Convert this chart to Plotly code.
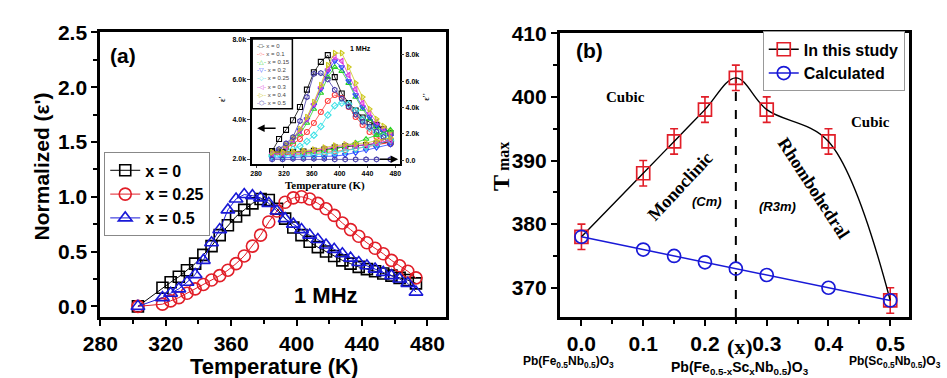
import plotly.graph_objects as go

W, H = 947, 378
def px(x): return x / W
def py(y): return 1 - y / H

# ---------------- Panel (a) data ----------------
temp_a = [303, 318, 323, 328, 333, 338, 343, 348, 353, 358, 363, 368, 373, 378, 383, 388,
          393, 398, 403, 408, 413, 418, 423, 428, 433, 438, 443, 448, 453, 458, 463, 468, 473]
norm_x0 = [0.0, 0.17, 0.22, 0.27, 0.33, 0.39, 0.47, 0.55, 0.65, 0.74, 0.82, 0.88, 0.94, 0.98, 0.97, 0.89,
           0.80, 0.72, 0.65, 0.59, 0.54, 0.50, 0.46, 0.42, 0.39, 0.36, 0.34, 0.32, 0.30, 0.28, 0.26, 0.24, 0.21]
norm_x025 = [0.0, 0.02, 0.05, 0.08, 0.12, 0.16, 0.20, 0.24, 0.28, 0.33, 0.39, 0.46, 0.55, 0.65, 0.77, 0.87,
             0.95, 0.99, 1.0, 0.98, 0.94, 0.89, 0.83, 0.76, 0.70, 0.64, 0.58, 0.53, 0.48, 0.42, 0.37, 0.32, 0.26]
norm_x05 = [0.0, 0.08, 0.12, 0.16, 0.22, 0.29, 0.42, 0.58, 0.70, 0.88, 0.98, 1.02, 1.01, 0.99, 0.94, 0.87,
            0.80, 0.75, 0.70, 0.65, 0.61, 0.56, 0.52, 0.48, 0.44, 0.40, 0.37, 0.34, 0.31, 0.28, 0.25, 0.21, 0.13]
labels_a = ["x = 0", "x = 0.25", "x = 0.5"]

# ---------------- Inset data (k units) ----------------
inset_labels = ["x = 0", "x = 0.1", "x = 0.15", "x = 0.2", "x = 0.25", "x = 0.3", "x = 0.4", "x = 0.5"]
temp_in = [303, 313, 323, 333, 343, 353, 363, 373, 383, 393, 403, 413, 423, 433, 443, 453, 463, 473]
eps_x0 = [2.4, 3.0, 3.46, 3.94, 4.6, 5.47, 6.34, 6.86, 7.2, 6.1, 5.28, 4.8, 4.42, 4.08, 3.84, 3.7, 3.5, 3.3]
eps_x01 = [2.3, 2.4, 2.55, 2.75, 3.0, 3.35, 3.8, 4.35, 4.9, 5.2, 5.05, 4.6, 4.1, 3.7, 3.35, 3.1, 2.9, 2.75]
eps_x015 = [2.2, 2.35, 2.55, 2.85, 3.25, 3.8, 4.5, 5.3, 6.1, 6.6, 6.4, 5.8, 5.1, 4.5, 4.0, 3.6, 3.3, 3.05]
eps_x02 = [2.3, 2.45, 2.7, 3.0, 3.45, 4.0, 4.7, 5.5, 6.4, 6.9, 6.6, 5.9, 5.2, 4.6, 4.1, 3.7, 3.4, 3.15]
eps_x025 = [2.2, 2.25, 2.33, 2.49, 2.64, 2.88, 3.19, 3.63, 4.2, 4.67, 4.8, 4.75, 4.41, 3.97, 3.55, 3.32, 3.11, 2.88]
eps_x03 = [2.2, 2.35, 2.6, 2.95, 3.4, 4.0, 4.75, 5.6, 6.5, 7.1, 6.9, 6.2, 5.5, 4.8, 4.3, 3.85, 3.5, 3.25]
eps_x04 = [2.3, 2.45, 2.7, 3.05, 3.5, 4.1, 4.85, 5.7, 6.7, 7.3, 7.3, 6.6, 5.8, 5.1, 4.5, 4.0, 3.65, 3.4]
eps_x05 = [2.3, 2.5, 2.78, 3.1, 3.9, 5.1, 6.26, 6.3, 5.98, 5.46, 5.02, 4.62, 4.22, 3.86, 3.62, 3.38, 3.1, 2.74]
temp_loss = [303, 318, 333, 348, 363, 378, 393, 408, 423, 438, 453, 473]
loss_x0 = [0.6, 0.6, 0.6, 0.65, 0.7, 0.8, 0.95, 1.05, 1.1, 1.15, 1.25, 1.4]
loss_x01 = [0.4, 0.4, 0.45, 0.45, 0.5, 0.55, 0.65, 0.75, 0.85, 1.0, 1.15, 1.35]
loss_x015 = [0.5, 0.5, 0.55, 0.55, 0.6, 0.7, 0.85, 1.05, 1.3, 1.6, 1.9, 2.3]
loss_x02 = [0.15, 0.15, 0.2, 0.25, 0.25, 0.25, 0.3, 0.4, 0.55, 0.75, 0.95, 1.2]
loss_x025 = [0.3, 0.3, 0.35, 0.35, 0.4, 0.45, 0.55, 0.7, 0.85, 1.0, 1.2, 1.5]
loss_x03 = [0.5, 0.5, 0.55, 0.6, 0.7, 0.85, 1.0, 1.1, 1.1, 1.15, 1.3, 1.5]
loss_x04 = [0.6, 0.6, 0.65, 0.7, 0.8, 0.95, 1.1, 1.2, 1.25, 1.3, 1.45, 1.7]
loss_x05 = [0.05, 0.05, 0.1, 0.1, 0.1, 0.1, 0.05, 0.05, 0.05, 0.05, 0.05, 0.05]

# ---------------- Panel (b) data ----------------
x_comp = [0.0, 0.1, 0.15, 0.2, 0.25, 0.3, 0.4, 0.5]
tmax_study = [378, 388, 393, 398, 403, 398, 393, 368]
tmax_err = [2, 2, 2, 2, 2, 2, 2, 2]
tmax_calc = [378, 376, 375, 374, 373, 372, 370, 368]
labels_b = ["In this study", "Calculated"]

RED = "rgb(225,30,40)"
BLUE = "rgb(25,25,215)"
SANS = "Liberation Sans"
SERIF = "Liberation Serif"

fig = go.Figure()

# panel (a)
for yv, name, col, sym, sz in [(norm_x0, labels_a[0], "black", "square-open", 11),
                               (norm_x025, labels_a[1], RED, "circle-open", 12),
                               (norm_x05, labels_a[2], BLUE, "triangle-up-open", 12)]:
    fig.add_trace(go.Scatter(x=temp_a, y=yv, name=name, mode="lines+markers",
                             line=dict(color=col, width=1),
                             marker=dict(symbol=sym, size=sz, color=col, line=dict(width=1.6, color=col)),
                             xaxis="x", yaxis="y", legend="legend"))

# inset
inset_cols = ["black", "rgb(255,60,60)", "rgb(40,210,40)", "rgb(40,70,255)", "rgb(60,225,230)",
              "rgb(220,50,220)", "rgb(205,200,30)", "rgb(70,60,170)"]
inset_syms = ["square-open", "circle-open", "triangle-up-open", "triangle-down-open", "diamond-open",
              "triangle-left-open", "triangle-right-open", "hexagon-open"]
eps_all = [eps_x0, eps_x01, eps_x015, eps_x02, eps_x025, eps_x03, eps_x04, eps_x05]
loss_all = [loss_x0, loss_x01, loss_x015, loss_x02, loss_x025, loss_x03, loss_x04, loss_x05]
for i in range(8):
    fig.add_trace(go.Scatter(x=temp_in, y=eps_all[i], mode="lines+markers", showlegend=False,
                             line=dict(color=inset_cols[i], width=0.8),
                             marker=dict(symbol=inset_syms[i], size=5, color=inset_cols[i], line=dict(width=1.1)),
                             xaxis="x3", yaxis="y3"))
for i in range(8):
    fig.add_trace(go.Scatter(x=temp_loss, y=loss_all[i], mode="lines+markers", showlegend=False,
                             line=dict(color=inset_cols[i], width=0.8),
                             marker=dict(symbol=inset_syms[i], size=5, color=inset_cols[i], line=dict(width=1.1)),
                             xaxis="x3", yaxis="y4"))

# panel (b)
fig.add_trace(go.Scatter(x=x_comp, y=tmax_study, name=labels_b[0], mode="lines+markers",
                         line=dict(color="black", width=1.4, shape="spline", smoothing=1.0),
                         marker=dict(symbol="square-open", size=13, color=RED, line=dict(width=1.7, color=RED)),
                         error_y=dict(type="data", array=tmax_err, visible=True, color=RED, thickness=1.6, width=4),
                         xaxis="x2", yaxis="y2", legend="legend2"))
fig.add_trace(go.Scatter(x=x_comp, y=tmax_calc, name=labels_b[1], mode="lines+markers",
                         line=dict(color=BLUE, width=1.5),
                         marker=dict(symbol="circle-open", size=13, color=BLUE, line=dict(width=1.7, color=BLUE)),
                         xaxis="x2", yaxis="y2", legend="legend2"))

fig.add_shape(type="line", xref="x2", yref="y2", x0=x_comp[4], x1=x_comp[4], y0=365.4, y1=tmax_study[4],
              line=dict(color="black", width=2, dash="dash"), layer="below")

tickfont = dict(family=SANS, size=21, color="black", weight="bold")
axcommon = dict(showline=True, linecolor="black", mirror=True, ticks="outside", tickcolor="black",
                showgrid=False, zeroline=False, tickfont=tickfont)
ydom = [py(315), py(21)]
inset_tf = dict(family=SANS, size=7, color="black", weight="bold")

fig.update_layout(
    width=W, height=H, margin=dict(l=0, r=0, t=0, b=0),
    paper_bgcolor="white", plot_bgcolor="white",
    xaxis=dict(domain=[px(84), px(437)], range=[280, 491.5], anchor="y", tickvals=[280, 320, 360, 400, 440, 480],
               linewidth=3, ticklen=6, tickwidth=2, minor=dict(dtick=20, ticklen=4, tickwidth=2, ticks="outside"),
               **axcommon),
    yaxis=dict(domain=ydom, range=[-0.097, 2.5], anchor="x", tickvals=[0, 0.5, 1.0, 1.5, 2.0, 2.5],
               tickformat=".1f", linewidth=3, ticklen=6, tickwidth=2,
               minor=dict(dtick=0.25, ticklen=4, tickwidth=2, ticks="outside"), **axcommon),
    xaxis2=dict(domain=[px(553), px(909)], range=[-0.0349, 0.530], anchor="y2",
                tickvals=[0.0, 0.1, 0.2, 0.3, 0.4, 0.5], tickformat=".1f", linewidth=3, ticklen=6, tickwidth=2,
                minor=dict(dtick=0.05, ticklen=4, tickwidth=2, ticks="outside"), **axcommon),
    yaxis2=dict(domain=[py(315), py(22)], range=[365.4, 410], anchor="x2", tickvals=[370, 380, 390, 400, 410],
                linewidth=3, ticklen=6, tickwidth=2,
                minor=dict(dtick=5, ticklen=4, tickwidth=2, ticks="outside"), **axcommon),
    xaxis3=dict(domain=[px(239), px(390)], range=[274.4, 487], anchor="y3",
                tickvals=[280, 320, 360, 400, 440, 480], showline=True, linecolor="black", mirror=True,
                linewidth=1.5, ticks="outside", ticklen=2, tickwidth=1, showgrid=False, zeroline=False,
                tickfont=inset_tf),
    yaxis3=dict(domain=[py(157), py(28)], range=[1.75, 8.0], anchor="x3", tickvals=[2, 4, 6, 8],
                ticktext=["2.0k", "4.0k", "6.0k", "8.0k"], showline=True, linecolor="black", mirror=True,
                linewidth=1.5, ticks="outside", ticklen=3, tickwidth=1, showgrid=False, zeroline=False,
                tickfont=inset_tf),
    yaxis4=dict(overlaying="y3", side="right", anchor="x3", range=[-0.3, 9.2], tickvals=[0, 2, 4, 6, 8],
                ticktext=["0.0", "2.0k", "4.0k", "6.0k", "8.0k"], showline=False, ticks="outside",
                ticklen=3, tickwidth=1, showgrid=False, zeroline=False, tickfont=inset_tf),
    legend=dict(x=px(88), y=py(145), xanchor="left", yanchor="top", bgcolor="white",
                bordercolor="#888", borderwidth=1, tracegroupgap=0, itemwidth=30,
                font=dict(family=SANS, size=16, color="black", weight="bold")),
    legend2=dict(x=px(760), y=py(20), xanchor="left", yanchor="top", bgcolor="white",
                 bordercolor="#999", borderwidth=1, tracegroupgap=0, itemwidth=30,
                 font=dict(family=SANS, size=16, color="black", weight="bold")),
    showlegend=True,
)

def ann(text, x, y, size, family=SANS, bold=True, angle=0, italic=False, xanchor="center", xref="paper",
        yref="paper", color="black"):
    fig.add_annotation(text=text, x=x, y=y, xref=xref, yref=yref, showarrow=False, textangle=angle,
                       xanchor=xanchor, yanchor="middle",
                       font=dict(family=family, size=size, color=color, weight="bold" if bold else "normal",
                                 style="italic" if italic else "normal"))

# panel (a) texts
ann("Normalized (ε')", px(24), py(160), 21, angle=-90)
ann("Temperature (K)", px(261), py(366), 22)
ann("(a)", px(107), py(45), 21)
ann("1 MHz", px(314), py(293), 22)

# inset texts
ann("1 MHz", px(350), py(38), 7)
ann("Temperature (K)", px(313), py(179), 11, family=SERIF)
ann("ε'", px(208), py(90), 8, family=SERIF, angle=-90)
ann("ε''", px(417), py(88), 8, family=SERIF, angle=-90)
fig.add_shape(type="rect", xref="paper", yref="paper", x0=px(239), x1=px(280), y0=py(100), y1=py(28),
              line=dict(color="black", width=1.5), fillcolor="white", layer="above")
glyphs = ["□", "○", "△", "▽", "◇", "◁", "▷", "⬡"]
for i in range(8):
    fig.add_annotation(text=f"<span style='color:{inset_cols[i]}'>-{glyphs[i]}-</span> {inset_labels[i]}",
                       x=px(242), y=py(35 + 8.4 * i), xref="paper", yref="paper", showarrow=False,
                       xanchor="left", yanchor="middle",
                       font=dict(family=SANS, size=6, color="#444"))
fig.add_annotation(x=px(244), y=py(120), xref="paper", yref="paper", ax=20, ay=0, text="",
                   showarrow=True, arrowhead=2, arrowsize=1, arrowwidth=1.5, arrowcolor="black")
fig.add_annotation(x=px(388), y=py(152), xref="paper", yref="paper", ax=-20, ay=0, text="",
                   showarrow=True, arrowhead=2, arrowsize=1, arrowwidth=1.5, arrowcolor="black")

# panel (b) texts
ann("(b)", px(583), py(40), 21)
ann("T<span style='font-size:16px'> max</span>", px(493), py(160), 24, family=SERIF, angle=-90)
ann("(x)", px(737), py(345), 22, family=SERIF)
ann("Pb(Fe<sub>0.5</sub>Nb<sub>0.5</sub>)O<sub>3</sub>", px(562), py(361), 12)
ann("Pb(Fe<sub>0.5-x</sub>Sc<sub>x</sub>Nb<sub>0.5</sub>)O<sub>3</sub>", px(737), py(368), 14)
ann("Pb(Sc<sub>0.5</sub>Nb<sub>0.5</sub>)O<sub>3</sub>", px(846), py(361), 12, xanchor="left")
ann("Cubic", 0.071, 400, 15, family=SERIF, xref="x2", yref="y2")
ann("Cubic", 0.468, 396.1, 15, family=SERIF, xref="x2", yref="y2")
ann("Monoclinic", 0.16, 386, 18, family=SERIF, angle=-47, xref="x2", yref="y2")
ann("Rhombohedral", 0.376, 385.7, 18, family=SERIF, angle=57, xref="x2", yref="y2")
ann("(Cm)", 0.203, 383.6, 13, italic=True, xref="x2", yref="y2")
ann("(R3m)", 0.317, 382.8, 13, italic=True, xref="x2", yref="y2")

fig.write_html("out.html")
